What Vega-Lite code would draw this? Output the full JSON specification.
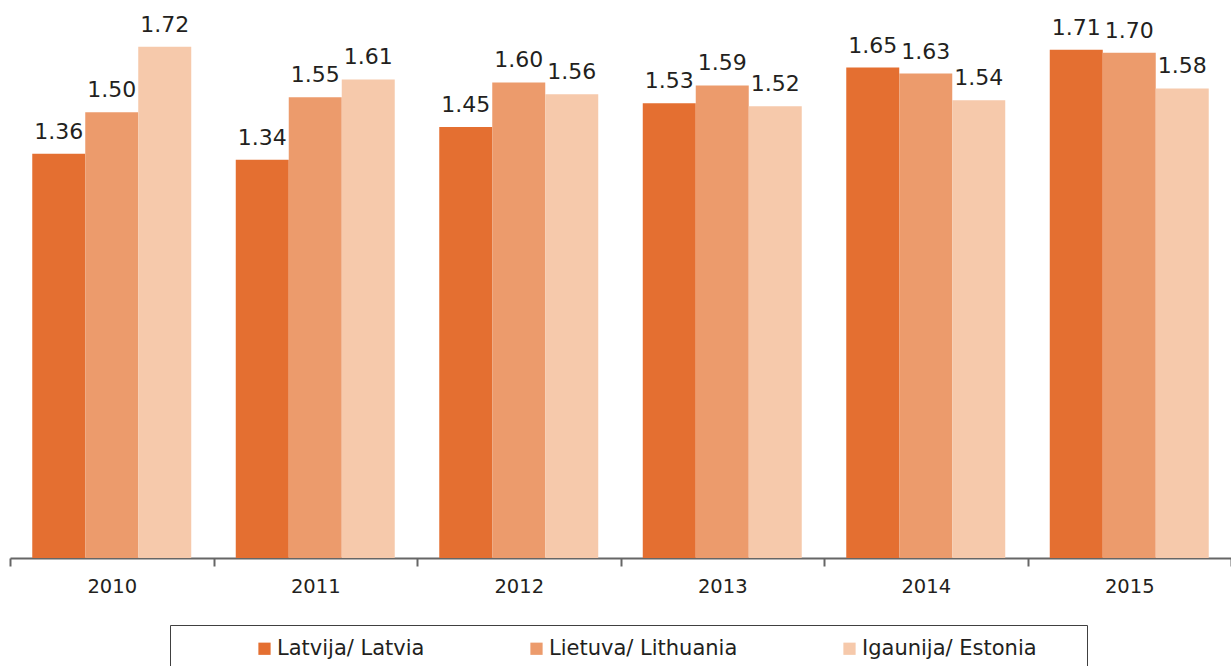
{
  "$schema": "https://vega.github.io/schema/vega-lite/v6.json",
  "width": 1221,
  "height": 535,
  "autosize": {"type": "none"},
  "padding": {"left": 10, "top": 23, "right": 0, "bottom": 108},
  "background": "white",
  "config": {"view": {"stroke": null}, "font": "DejaVu Sans"},
  "data": {
    "values": [
      {"year": "2010", "country": "Latvija/ Latvia", "value": 1.36},
      {"year": "2010", "country": "Lietuva/ Lithuania", "value": 1.50},
      {"year": "2010", "country": "Igaunija/ Estonia", "value": 1.72},
      {"year": "2011", "country": "Latvija/ Latvia", "value": 1.34},
      {"year": "2011", "country": "Lietuva/ Lithuania", "value": 1.55},
      {"year": "2011", "country": "Igaunija/ Estonia", "value": 1.61},
      {"year": "2012", "country": "Latvija/ Latvia", "value": 1.45},
      {"year": "2012", "country": "Lietuva/ Lithuania", "value": 1.60},
      {"year": "2012", "country": "Igaunija/ Estonia", "value": 1.56},
      {"year": "2013", "country": "Latvija/ Latvia", "value": 1.53},
      {"year": "2013", "country": "Lietuva/ Lithuania", "value": 1.59},
      {"year": "2013", "country": "Igaunija/ Estonia", "value": 1.52},
      {"year": "2014", "country": "Latvija/ Latvia", "value": 1.65},
      {"year": "2014", "country": "Lietuva/ Lithuania", "value": 1.63},
      {"year": "2014", "country": "Igaunija/ Estonia", "value": 1.54},
      {"year": "2015", "country": "Latvija/ Latvia", "value": 1.71},
      {"year": "2015", "country": "Lietuva/ Lithuania", "value": 1.70},
      {"year": "2015", "country": "Igaunija/ Estonia", "value": 1.58}
    ]
  },
  "encoding": {
    "x": {
      "field": "year",
      "type": "nominal",
      "scale": {"paddingInner": 0, "paddingOuter": 0},
      "axis": {
        "title": null,
        "labelAngle": 0,
        "labelFontSize": 19.5,
        "labelColor": "#231f20",
        "labelPadding": 11,
        "domainColor": "#666666",
        "domainWidth": 2,
        "tickColor": "#666666",
        "tickWidth": 2,
        "tickSize": 8,
        "tickBand": "extent",
        "grid": false
      }
    },
    "xOffset": {
      "field": "country",
      "type": "nominal",
      "sort": ["Latvija/ Latvia", "Lietuva/ Lithuania", "Igaunija/ Estonia"],
      "scale": {"paddingOuter": 0.42, "paddingInner": 0}
    },
    "y": {
      "field": "value",
      "type": "quantitative",
      "scale": {"domain": [0, 1.8]},
      "axis": null
    }
  },
  "layer": [
    {
      "mark": {"type": "bar"},
      "encoding": {
        "color": {
          "field": "country",
          "type": "nominal",
          "sort": ["Latvija/ Latvia", "Lietuva/ Lithuania", "Igaunija/ Estonia"],
          "scale": {
            "domain": ["Latvija/ Latvia", "Lietuva/ Lithuania", "Igaunija/ Estonia"],
            "range": ["#E46F31", "#EC9B6C", "#F6C9AB"]
          },
          "legend": {
            "orient": "none",
            "legendX": 160,
            "legendY": 602,
            "direction": "horizontal",
            "title": " ",
            "titleOrient": "right",
            "titleFontSize": 2,
            "titlePadding": 37,
            "strokeColor": "#404040",
            "padding": 13,
            "symbolType": "square",
            "symbolSize": 150,
            "symbolStrokeWidth": 0,
            "symbolOpacity": 1,
            "symbolOffset": 71,
            "labelOffset": 2,
            "labelFontSize": 21,
            "labelColor": "#231f20",
            "labelLimit": 400,
            "columnPadding": 30
          }
        }
      }
    },
    {
      "mark": {"type": "text", "dy": -15, "baseline": "alphabetic", "fontSize": 22, "color": "#231f20"},
      "encoding": {
        "text": {"field": "value", "type": "quantitative", "format": ".2f"}
      }
    }
  ]
}
